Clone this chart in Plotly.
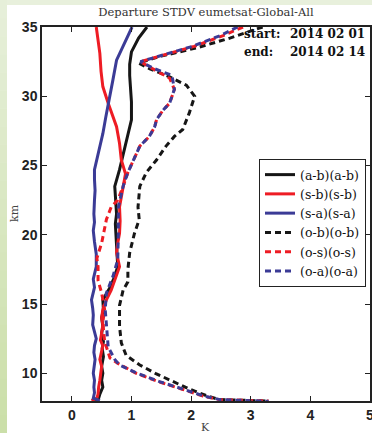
import plotly.graph_objects as go

# ---- data ----
km_ab = [35, 34.2, 33.2, 32.3, 31.5, 30.6, 29.6, 28.3, 27.2, 25.9, 24.7, 23.5, 22.5, 21.5, 20.8, 20.1, 19.3, 18.6, 17.7, 16.8, 16.2, 15.3, 14.6, 14.0, 13.4, 12.9, 12.3, 11.8, 11.2, 10.5, 10.0, 9.5, 9.0, 8.5, 8.2, 8.02]
K_ab = [1.26, 1.12, 1.0, 0.97, 0.97, 0.98, 1.0, 1.0, 0.94, 0.86, 0.80, 0.72, 0.74, 0.75, 0.73, 0.74, 0.75, 0.76, 0.77, 0.70, 0.64, 0.52, 0.53, 0.50, 0.52, 0.50, 0.53, 0.51, 0.53, 0.50, 0.52, 0.50, 0.52, 0.47, 0.45, 0.38]

km_sb = [35, 34, 33.1, 31.8, 30.7, 29.5, 28.6, 27.8, 26.6, 25.4, 24.4, 23.5, 22.0, 21.0, 20.1, 19.4, 18.7, 17.7, 16.8, 16.0, 15.3, 14.6, 14.0, 13.5, 12.9, 12.4, 12.0, 11.5, 11.0, 10.5, 10.0, 9.5, 9.0, 8.5, 8.2, 8.02]
K_sb = [0.41, 0.44, 0.47, 0.49, 0.52, 0.61, 0.69, 0.75, 0.80, 0.83, 0.90, 0.86, 0.80, 0.81, 0.80, 0.77, 0.75, 0.80, 0.72, 0.66, 0.58, 0.52, 0.50, 0.52, 0.50, 0.48, 0.52, 0.49, 0.47, 0.50, 0.49, 0.47, 0.45, 0.44, 0.42, 0.33]

km_sa = [35, 33.6, 32.6, 31.2, 29.5, 28.5, 27.3, 25.9, 24.7, 24.0, 23.2, 22.5, 21.5, 20.9, 20.3, 19.5, 18.6, 17.7, 16.8, 16.2, 15.3, 14.7, 14.2, 13.5, 12.5, 12.0, 11.5, 11.0, 10.6, 10.0, 9.5, 9.0, 8.6, 8.2, 8.02]
K_sa = [1.01, 0.86, 0.75, 0.69, 0.61, 0.57, 0.52, 0.44, 0.38, 0.38, 0.39, 0.38, 0.37, 0.38, 0.36, 0.38, 0.41, 0.41, 0.36, 0.38, 0.33, 0.35, 0.36, 0.35, 0.41, 0.38, 0.37, 0.39, 0.38, 0.36, 0.38, 0.37, 0.38, 0.36, 0.47]

km_ob = [35, 34.2, 33.5, 32.9, 32.4, 32.0, 31.4, 30.8, 30.0, 28.8, 27.6, 27.1, 26.4, 25.4, 24.5, 23.5, 22.0, 21.1, 20.1, 18.7, 17.5, 16.6, 16.0, 14.9, 13.4, 12.2, 11.3, 10.6, 10.0, 9.4, 8.9, 8.4, 8.1, 8.0]
K_ob = [3.2, 2.65, 2.1, 1.5, 1.12, 1.3, 1.64, 1.92, 2.06, 1.97, 1.86, 1.72, 1.58, 1.42, 1.25, 1.14, 1.11, 1.13, 1.05, 0.97, 0.94, 0.94, 0.86, 0.80, 0.80, 0.83, 0.91, 1.14, 1.40, 1.70, 1.95, 2.25, 2.47, 3.3]

km_os = [35, 34.4, 33.6, 32.9, 32.5, 32.0, 31.3, 30.5, 29.5, 29.0, 28.3, 27.8, 27.1, 26.4, 25.4, 24.5, 23.5, 22.5, 22.0, 21.1, 19.4, 18.3, 17.7, 16.7, 15.8, 14.6, 13.7, 12.3, 11.1, 10.7, 10.0, 9.4, 8.85, 8.35, 8.1, 8.0]
K_os = [2.87, 2.55, 2.05, 1.5, 1.15, 1.35, 1.64, 1.72, 1.64, 1.53, 1.42, 1.39, 1.30, 1.14, 1.03, 0.94, 0.86, 0.77, 0.66, 0.58, 0.50, 0.42, 0.44, 0.44, 0.50, 0.55, 0.52, 0.55, 0.64, 0.78, 1.08, 1.45, 1.85, 2.2, 2.47, 3.3]

km_oa = [35, 34.4, 33.6, 32.9, 32.5, 32.0, 31.5, 30.5, 29.5, 29.0, 28.3, 27.8, 27.1, 26.4, 25.4, 24.5, 23.5, 22.5, 22.0, 20.1, 18.2, 17.0, 15.8, 14.6, 13.4, 11.9, 11.0, 10.6, 10.0, 9.4, 8.85, 8.35, 8.1, 7.98]
K_oa = [2.78, 2.5, 2.02, 1.48, 1.15, 1.38, 1.68, 1.72, 1.64, 1.53, 1.42, 1.39, 1.30, 1.14, 1.03, 0.94, 0.86, 0.80, 0.78, 0.78, 0.77, 0.69, 0.58, 0.56, 0.58, 0.61, 0.72, 0.80, 1.10, 1.47, 1.87, 2.22, 2.49, 3.3]

names = ["(a-b)(a-b)", "(s-b)(s-b)", "(s-a)(s-a)", "(o-b)(o-b)", "(o-s)(o-s)", "(o-a)(o-a)"]
x_ticks = [0, 1, 2, 3, 4, 5]
y_ticks = [10, 15, 20, 25, 30, 35]

BLACK = "#161616"
RED = "#ee1c24"
BLUE = "#3b3b96"
DASH = "6px,4px"

series = [
    (names[0], K_ab, km_ab, BLACK, "solid"),
    (names[1], K_sb, km_sb, RED, "solid"),
    (names[2], K_sa, km_sa, BLUE, "solid"),
    (names[3], K_ob, km_ob, BLACK, DASH),
    (names[4], K_os, km_os, RED, DASH),
    (names[5], K_oa, km_oa, BLUE, DASH),
]

fig = go.Figure()
for name, x, y, color, dash in series:
    fig.add_trace(go.Scatter(x=x, y=y, mode="lines", name=name,
                             line=dict(color=color, width=3, dash=dash)))

W, H = 372, 433
L, R, T, B = 42, 2, 27, 32
pw, ph = W - L - R, H - T - B

def px2x(px):
    return (px - L) / pw

def py2y(py):
    return (H - B - py) / ph

shapes = []
# top light-green strip
shapes.append(dict(type="rect", xref="paper", yref="paper", layer="below",
                   x0=px2x(0), x1=px2x(W), y0=py2y(5), y1=py2y(0),
                   fillcolor="#e8f0dc", line=dict(width=0)))
# left gradient strip
n = 24
c0 = (0xe6, 0xef, 0xd9)
c1 = (0xcb, 0xdf, 0xa9)
for i in range(n):
    t = i / (n - 1)
    col = "rgb(%d,%d,%d)" % tuple(round(a + (b - a) * t) for a, b in zip(c0, c1))
    shapes.append(dict(type="rect", xref="paper", yref="paper", layer="below",
                       x0=px2x(0), x1=px2x(7),
                       y0=py2y(H * (i + 1) / n + 0.5), y1=py2y(H * i / n),
                       fillcolor=col, line=dict(width=0)))

serif = "DejaVu Serif"
ann_font = dict(family=serif, size=12, color="#111", weight="bold")
annotations = [
    dict(text="start:", xref="paper", yref="paper", x=px2x(242), y=py2y(34),
         xanchor="left", yanchor="middle", showarrow=False, font=ann_font),
    dict(text="2014 02 01", xref="paper", yref="paper", x=px2x(367), y=py2y(34),
         xanchor="right", yanchor="middle", showarrow=False, font=ann_font),
    dict(text="end:", xref="paper", yref="paper", x=px2x(242), y=py2y(52),
         xanchor="left", yanchor="middle", showarrow=False, font=ann_font),
    dict(text="2014 02 14", xref="paper", yref="paper", x=px2x(367), y=py2y(52),
         xanchor="right", yanchor="middle", showarrow=False, font=ann_font),
    # axis titles
    dict(text="km", xref="paper", yref="paper", x=px2x(14), y=py2y(213),
         xanchor="center", yanchor="middle", showarrow=False, textangle=-90,
         font=dict(family=serif, size=11, color="#444")),
    dict(text="K", xref="paper", yref="paper", x=px2x(205), y=py2y(427),
         xanchor="center", yanchor="middle", showarrow=False,
         font=dict(family=serif, size=11, color="#444")),
]

tickfont = dict(family="Liberation Sans", size=14, color="#222", weight="bold")

fig.update_layout(
    width=W, height=H,
    margin=dict(l=L, r=R, t=T, b=B, pad=0, autoexpand=False),
    paper_bgcolor="white", plot_bgcolor="white",
    title=dict(text="Departure STDV eumetsat-Global-All", x=206 / W,
               xanchor="center", y=1 - 12 / H, yanchor="middle",
               font=dict(family=serif, size=11.5, color="#333")),
    showlegend=True,
    legend=dict(x=px2x(366), xanchor="right", y=py2y(159), yanchor="top",
                bgcolor="white", bordercolor="#222", borderwidth=1,
                font=dict(family=serif, size=12.5, color="#111"),
                tracegroupgap=0, itemwidth=30),
    shapes=shapes,
    annotations=annotations,
    xaxis=dict(range=[-0.5, 5.0], tickvals=x_ticks, ticktext=[str(v) for v in x_ticks],
               showgrid=False, zeroline=False, showline=True, linecolor="#222",
               linewidth=1.5, mirror="ticks", ticks="inside", ticklen=5,
               tickcolor="#222", tickfont=tickfont, automargin=False,
               ticklabeloverflow="allow"),
    yaxis=dict(range=[8, 35], tickvals=y_ticks, ticktext=[str(v) for v in y_ticks],
               showgrid=False, zeroline=False, showline=True, linecolor="#222",
               linewidth=1.5, mirror="ticks", ticks="inside", ticklen=5,
               tickcolor="#222", tickfont=tickfont, automargin=False),
)

fig.write_html("out.html", config={"displayModeBar": False},
               post_script="document.body.style.margin='0';document.body.style.overflow='hidden';")
